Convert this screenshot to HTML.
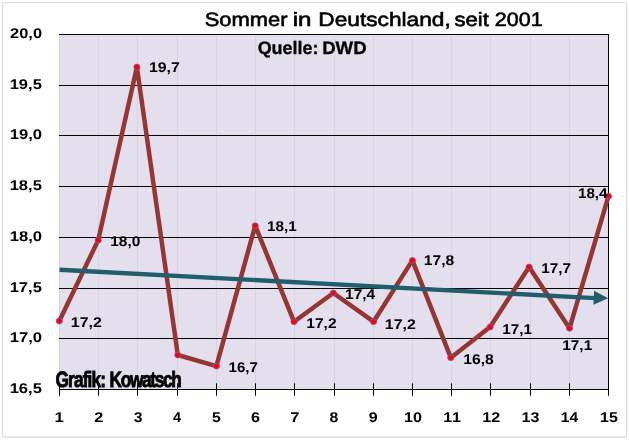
<!DOCTYPE html>
<html lang="de"><head><meta charset="utf-8"><title>Sommer in Deutschland, seit 2001</title>
<style>html,body{margin:0;padding:0;background:#fff;}body{width:629px;height:440px;overflow:hidden;font-family:"Liberation Sans",Arial,sans-serif;}svg{display:block;}</style>
</head><body>
<svg width="629" height="440" viewBox="0 0 629 440" font-family="'Liberation Sans', Arial, sans-serif" text-rendering="geometricPrecision" style="font-kerning:none">
<rect x="0" y="0" width="629" height="440" fill="#fff"/>
<rect x="2.5" y="2.5" width="624.1" height="434.6" rx="2" ry="2" fill="#fff" stroke="#d9d9d9" stroke-width="1.1"/>
<rect x="59.1" y="34.5" width="549.40" height="355.00" fill="#e4dfec"/>
<line x1="59.5" y1="34.5" x2="59.5" y2="389.5" stroke="#d8d3e0" stroke-width="1"/>
<line x1="98.5" y1="34.5" x2="98.5" y2="389.5" stroke="#d8d3e0" stroke-width="1"/>
<line x1="137.5" y1="34.5" x2="137.5" y2="389.5" stroke="#d8d3e0" stroke-width="1"/>
<line x1="177.5" y1="34.5" x2="177.5" y2="389.5" stroke="#d8d3e0" stroke-width="1"/>
<line x1="216.5" y1="34.5" x2="216.5" y2="389.5" stroke="#d8d3e0" stroke-width="1"/>
<line x1="255.5" y1="34.5" x2="255.5" y2="389.5" stroke="#d8d3e0" stroke-width="1"/>
<line x1="294.5" y1="34.5" x2="294.5" y2="389.5" stroke="#d8d3e0" stroke-width="1"/>
<line x1="334.5" y1="34.5" x2="334.5" y2="389.5" stroke="#d8d3e0" stroke-width="1"/>
<line x1="373.5" y1="34.5" x2="373.5" y2="389.5" stroke="#d8d3e0" stroke-width="1"/>
<line x1="412.5" y1="34.5" x2="412.5" y2="389.5" stroke="#d8d3e0" stroke-width="1"/>
<line x1="451.5" y1="34.5" x2="451.5" y2="389.5" stroke="#d8d3e0" stroke-width="1"/>
<line x1="490.5" y1="34.5" x2="490.5" y2="389.5" stroke="#d8d3e0" stroke-width="1"/>
<line x1="530.5" y1="34.5" x2="530.5" y2="389.5" stroke="#d8d3e0" stroke-width="1"/>
<line x1="569.5" y1="34.5" x2="569.5" y2="389.5" stroke="#d8d3e0" stroke-width="1"/>
<line x1="608.5" y1="34.5" x2="608.5" y2="389.5" stroke="#d8d3e0" stroke-width="1"/>
<line x1="59.0" y1="34.5" x2="609.0" y2="34.5" stroke="#000" stroke-width="1"/>
<line x1="59.0" y1="85.5" x2="609.0" y2="85.5" stroke="#000" stroke-width="1"/>
<line x1="59.0" y1="135.5" x2="609.0" y2="135.5" stroke="#000" stroke-width="1"/>
<line x1="59.0" y1="186.5" x2="609.0" y2="186.5" stroke="#000" stroke-width="1"/>
<line x1="59.0" y1="237.5" x2="609.0" y2="237.5" stroke="#000" stroke-width="1"/>
<line x1="59.0" y1="288.5" x2="609.0" y2="288.5" stroke="#000" stroke-width="1"/>
<line x1="59.0" y1="338.5" x2="609.0" y2="338.5" stroke="#000" stroke-width="1"/>
<line x1="59.0" y1="389.5" x2="609.0" y2="389.5" stroke="#000" stroke-width="1"/>
<line x1="608.5" y1="34" x2="608.5" y2="390" stroke="#000" stroke-width="1"/>
<line x1="59.5" y1="383.3" x2="59.5" y2="395.7" stroke="#000" stroke-width="1"/>
<line x1="98.5" y1="383.3" x2="98.5" y2="395.7" stroke="#000" stroke-width="1"/>
<line x1="137.5" y1="383.3" x2="137.5" y2="395.7" stroke="#000" stroke-width="1"/>
<line x1="177.5" y1="383.3" x2="177.5" y2="395.7" stroke="#000" stroke-width="1"/>
<line x1="216.5" y1="383.3" x2="216.5" y2="395.7" stroke="#000" stroke-width="1"/>
<line x1="255.5" y1="383.3" x2="255.5" y2="395.7" stroke="#000" stroke-width="1"/>
<line x1="294.5" y1="383.3" x2="294.5" y2="395.7" stroke="#000" stroke-width="1"/>
<line x1="334.5" y1="383.3" x2="334.5" y2="395.7" stroke="#000" stroke-width="1"/>
<line x1="373.5" y1="383.3" x2="373.5" y2="395.7" stroke="#000" stroke-width="1"/>
<line x1="412.5" y1="383.3" x2="412.5" y2="395.7" stroke="#000" stroke-width="1"/>
<line x1="451.5" y1="383.3" x2="451.5" y2="395.7" stroke="#000" stroke-width="1"/>
<line x1="490.5" y1="383.3" x2="490.5" y2="395.7" stroke="#000" stroke-width="1"/>
<line x1="530.5" y1="383.3" x2="530.5" y2="395.7" stroke="#000" stroke-width="1"/>
<line x1="569.5" y1="383.3" x2="569.5" y2="395.7" stroke="#000" stroke-width="1"/>
<line x1="608.5" y1="383.3" x2="608.5" y2="395.7" stroke="#000" stroke-width="1"/>
<polyline fill="none" stroke="#963634" stroke-width="4.5" stroke-linejoin="round" stroke-linecap="round" points="59.3,321.0 98.2,240.2 136.9,67.0 177.8,355.0 216.4,366.1 255.2,225.7 294.0,321.7 333.3,293.0 373.5,321.7 412.4,260.4 450.8,357.7 490.1,327.0 529.1,267.0 569.5,328.3 608.5,196.2"/>
<line x1="59.5" y1="269.7" x2="595" y2="298.1" stroke="#215e6b" stroke-width="4.4"/>
<polygon points="594.1,290.7 608.2,298.3 593.4,304.7" fill="#215e6b"/>
<ellipse cx="59.3" cy="321.0" rx="3.1" ry="2.9" fill="#ff0000" stroke="#7560b8" stroke-width="0.8"/>
<ellipse cx="98.2" cy="240.2" rx="3.1" ry="2.9" fill="#ff0000" stroke="#7560b8" stroke-width="0.8"/>
<ellipse cx="136.9" cy="67.0" rx="3.1" ry="2.9" fill="#ff0000" stroke="#7560b8" stroke-width="0.8"/>
<ellipse cx="177.8" cy="355.0" rx="3.1" ry="2.9" fill="#ff0000" stroke="#7560b8" stroke-width="0.8"/>
<ellipse cx="216.4" cy="366.1" rx="3.1" ry="2.9" fill="#ff0000" stroke="#7560b8" stroke-width="0.8"/>
<ellipse cx="255.2" cy="225.7" rx="3.1" ry="2.9" fill="#ff0000" stroke="#7560b8" stroke-width="0.8"/>
<ellipse cx="294.0" cy="321.7" rx="3.1" ry="2.9" fill="#ff0000" stroke="#7560b8" stroke-width="0.8"/>
<ellipse cx="333.3" cy="293.0" rx="3.1" ry="2.9" fill="#ff0000" stroke="#7560b8" stroke-width="0.8"/>
<ellipse cx="373.5" cy="321.7" rx="3.1" ry="2.9" fill="#ff0000" stroke="#7560b8" stroke-width="0.8"/>
<ellipse cx="412.4" cy="260.4" rx="3.1" ry="2.9" fill="#ff0000" stroke="#7560b8" stroke-width="0.8"/>
<ellipse cx="450.8" cy="357.7" rx="3.1" ry="2.9" fill="#ff0000" stroke="#7560b8" stroke-width="0.8"/>
<ellipse cx="490.1" cy="327.0" rx="3.1" ry="2.9" fill="#ff0000" stroke="#7560b8" stroke-width="0.8"/>
<ellipse cx="529.1" cy="267.0" rx="3.1" ry="2.9" fill="#ff0000" stroke="#7560b8" stroke-width="0.8"/>
<ellipse cx="569.5" cy="328.3" rx="3.1" ry="2.9" fill="#ff0000" stroke="#7560b8" stroke-width="0.8"/>
<ellipse cx="608.5" cy="196.2" rx="3.1" ry="2.9" fill="#ff0000" stroke="#7560b8" stroke-width="0.8"/>
<text y="38.40" font-size="14.1" font-weight="bold" fill="#000"><tspan x="10.13" textLength="31.94" lengthAdjust="spacingAndGlyphs">20,0</tspan></text>
<text y="89.40" font-size="14.1" font-weight="bold" fill="#000"><tspan x="9.66" textLength="32.20" lengthAdjust="spacingAndGlyphs">19,5</tspan></text>
<text y="139.40" font-size="14.1" font-weight="bold" fill="#000"><tspan x="9.65" textLength="32.43" lengthAdjust="spacingAndGlyphs">19,0</tspan></text>
<text y="190.40" font-size="14.1" font-weight="bold" fill="#000"><tspan x="9.66" textLength="32.20" lengthAdjust="spacingAndGlyphs">18,5</tspan></text>
<text y="241.40" font-size="14.1" font-weight="bold" fill="#000"><tspan x="9.65" textLength="32.43" lengthAdjust="spacingAndGlyphs">18,0</tspan></text>
<text y="292.40" font-size="14.1" font-weight="bold" fill="#000"><tspan x="9.66" textLength="32.20" lengthAdjust="spacingAndGlyphs">17,5</tspan></text>
<text y="342.40" font-size="14.1" font-weight="bold" fill="#000"><tspan x="9.65" textLength="32.43" lengthAdjust="spacingAndGlyphs">17,0</tspan></text>
<text y="393.40" font-size="14.1" font-weight="bold" fill="#000"><tspan x="9.66" textLength="32.20" lengthAdjust="spacingAndGlyphs">16,5</tspan></text>
<text y="422.30" font-size="14.1" font-weight="bold" fill="#000"><tspan x="54.54" textLength="9.32" lengthAdjust="spacingAndGlyphs">1</tspan></text>
<text y="422.30" font-size="14.1" font-weight="bold" fill="#000"><tspan x="94.25" textLength="9.01" lengthAdjust="spacingAndGlyphs">2</tspan></text>
<text y="422.30" font-size="14.1" font-weight="bold" fill="#000"><tspan x="133.67" textLength="8.73" lengthAdjust="spacingAndGlyphs">3</tspan></text>
<text y="422.30" font-size="14.1" font-weight="bold" fill="#000"><tspan x="173.02" textLength="8.10" lengthAdjust="spacingAndGlyphs">4</tspan></text>
<text y="422.30" font-size="14.1" font-weight="bold" fill="#000"><tspan x="211.97" textLength="8.72" lengthAdjust="spacingAndGlyphs">5</tspan></text>
<text y="422.30" font-size="14.1" font-weight="bold" fill="#000"><tspan x="251.08" textLength="8.97" lengthAdjust="spacingAndGlyphs">6</tspan></text>
<text y="422.30" font-size="14.1" font-weight="bold" fill="#000"><tspan x="290.17" textLength="9.24" lengthAdjust="spacingAndGlyphs">7</tspan></text>
<text y="422.30" font-size="14.1" font-weight="bold" fill="#000"><tspan x="329.60" textLength="8.79" lengthAdjust="spacingAndGlyphs">8</tspan></text>
<text y="422.30" font-size="14.1" font-weight="bold" fill="#000"><tspan x="368.76" textLength="8.96" lengthAdjust="spacingAndGlyphs">9</tspan></text>
<text y="422.30" font-size="14.1" font-weight="bold" fill="#000"><tspan x="403.96" textLength="17.98" lengthAdjust="spacingAndGlyphs">10</tspan></text>
<text y="422.30" font-size="14.1" font-weight="bold" fill="#000"><tspan x="443.19" textLength="17.75" lengthAdjust="spacingAndGlyphs">11</tspan></text>
<text y="422.30" font-size="14.1" font-weight="bold" fill="#000"><tspan x="482.39" textLength="17.96" lengthAdjust="spacingAndGlyphs">12</tspan></text>
<text y="422.30" font-size="14.1" font-weight="bold" fill="#000"><tspan x="521.61" textLength="17.89" lengthAdjust="spacingAndGlyphs">13</tspan></text>
<text y="422.30" font-size="14.1" font-weight="bold" fill="#000"><tspan x="560.85" textLength="17.37" lengthAdjust="spacingAndGlyphs">14</tspan></text>
<text y="422.30" font-size="14.1" font-weight="bold" fill="#000"><tspan x="600.04" textLength="17.75" lengthAdjust="spacingAndGlyphs">15</tspan></text>
<text y="327.40" font-size="14.1" font-weight="bold" fill="#000"><tspan x="70.80" textLength="31.04" lengthAdjust="spacingAndGlyphs">17,2</tspan></text>
<text y="245.90" font-size="14.1" font-weight="bold" fill="#000"><tspan x="110.22" textLength="30.21" lengthAdjust="spacingAndGlyphs">18,0</tspan></text>
<text y="72.20" font-size="14.1" font-weight="bold" fill="#000"><tspan x="148.90" textLength="31.00" lengthAdjust="spacingAndGlyphs">19,7</tspan></text>
<text y="372.20" font-size="14.1" font-weight="bold" fill="#000"><tspan x="228.55" textLength="29.42" lengthAdjust="spacingAndGlyphs">16,7</tspan></text>
<text y="230.90" font-size="14.1" font-weight="bold" fill="#000"><tspan x="267.14" textLength="29.69" lengthAdjust="spacingAndGlyphs">18,1</tspan></text>
<text y="328.00" font-size="14.1" font-weight="bold" fill="#000"><tspan x="306.32" textLength="30.30" lengthAdjust="spacingAndGlyphs">17,2</tspan></text>
<text y="299.40" font-size="14.1" font-weight="bold" fill="#000"><tspan x="345.02" textLength="30.16" lengthAdjust="spacingAndGlyphs">17,4</tspan></text>
<text y="328.60" font-size="14.1" font-weight="bold" fill="#000"><tspan x="384.80" textLength="30.94" lengthAdjust="spacingAndGlyphs">17,2</tspan></text>
<text y="265.10" font-size="14.1" font-weight="bold" fill="#000"><tspan x="423.81" textLength="30.47" lengthAdjust="spacingAndGlyphs">17,8</tspan></text>
<text y="364.10" font-size="14.1" font-weight="bold" fill="#000"><tspan x="463.21" textLength="30.57" lengthAdjust="spacingAndGlyphs">16,8</tspan></text>
<text y="333.50" font-size="14.1" font-weight="bold" fill="#000"><tspan x="502.34" textLength="29.79" lengthAdjust="spacingAndGlyphs">17,1</tspan></text>
<text y="273.40" font-size="14.1" font-weight="bold" fill="#000"><tspan x="541.34" textLength="29.73" lengthAdjust="spacingAndGlyphs">17,7</tspan></text>
<text y="349.80" font-size="14.1" font-weight="bold" fill="#000"><tspan x="562.23" textLength="30.00" lengthAdjust="spacingAndGlyphs">17,1</tspan></text>
<text y="197.50" font-size="14.1" font-weight="bold" fill="#000"><tspan x="577.94" textLength="29.64" lengthAdjust="spacingAndGlyphs">18,4</tspan></text>
<text y="25.60" font-size="19.4" font-weight="normal" fill="#000" stroke="#000" stroke-width="0.6"><tspan x="204.70" textLength="82.86" lengthAdjust="spacingAndGlyphs">Sommer</tspan> <tspan x="292.69" textLength="18.78" lengthAdjust="spacingAndGlyphs">in</tspan> <tspan x="318.34" textLength="132.40" lengthAdjust="spacingAndGlyphs">Deutschland,</tspan> <tspan x="454.49" textLength="34.38" lengthAdjust="spacingAndGlyphs">seit</tspan> <tspan x="494.82" textLength="47.83" lengthAdjust="spacingAndGlyphs">2001</tspan></text>
<text y="54.30" font-size="18.0" font-weight="bold" fill="#000" stroke="#000" stroke-width="0.3"><tspan x="257.66" textLength="60.86" lengthAdjust="spacingAndGlyphs">Quelle:</tspan> <tspan x="322.16" textLength="44.43" lengthAdjust="spacingAndGlyphs">DWD</tspan></text>
<text transform="translate(0 387.40) scale(0.78 1)" font-size="22.2" font-weight="bold" fill="#000" stroke="#000" stroke-width="0.8"><tspan x="71.01" letter-spacing="-1.076">Grafik:</tspan> <tspan x="140.44" letter-spacing="-1.713">Kowatsch</tspan></text>
</svg>
</body></html>
